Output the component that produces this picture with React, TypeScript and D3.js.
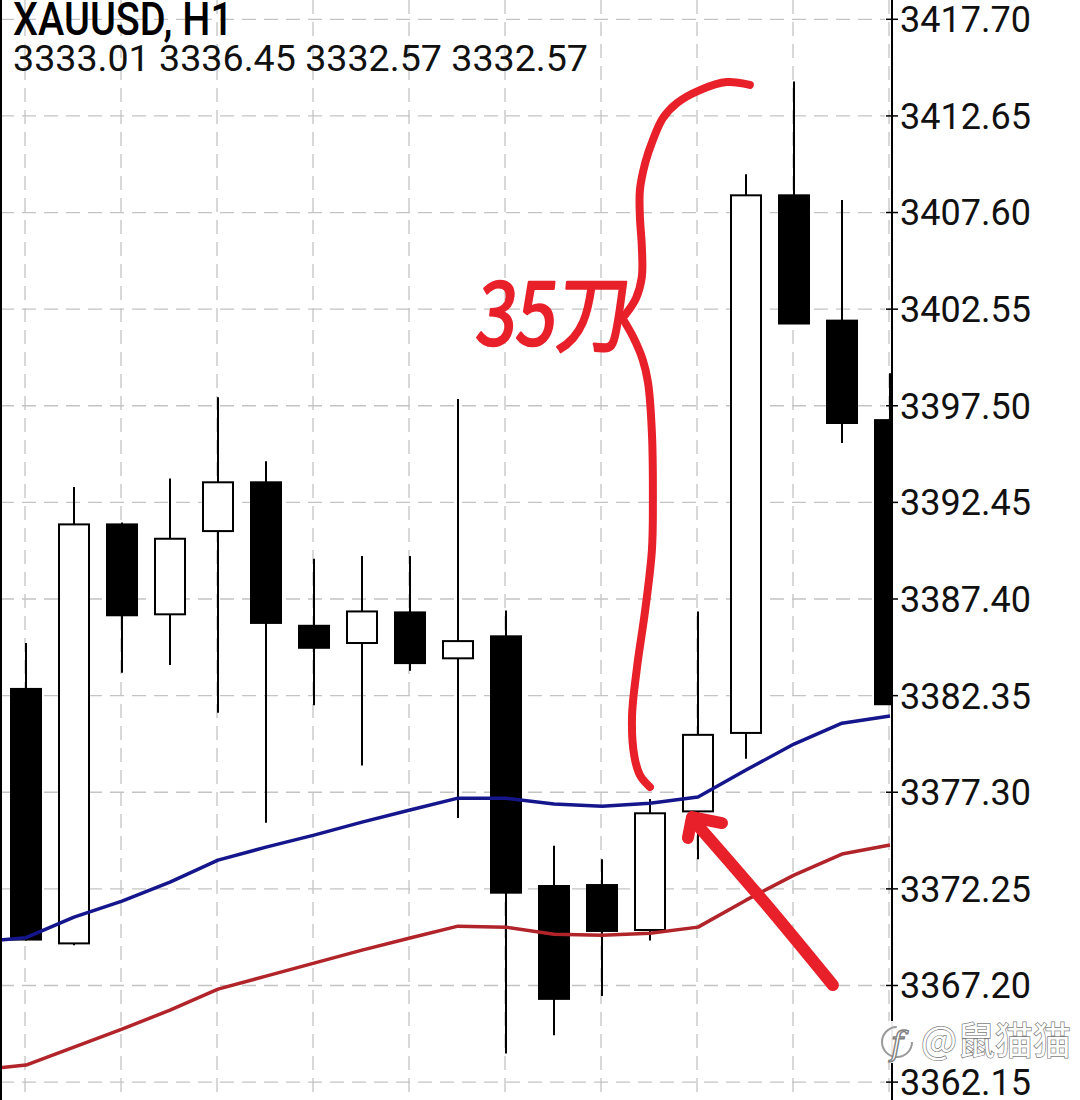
import React from 'react';
import * as d3 from 'd3';

const W = 1080;
const H = 1100;

// ---- header ----
const symbolTitle = 'XAUUSD, H1';
const ohlcHeader = '3333.01 3336.45 3332.57 3332.57';

// ---- price axis ticks ----
const tickValues = [3417.70, 3412.65, 3407.60, 3402.55, 3397.50, 3392.45, 3387.40, 3382.35, 3377.30, 3372.25, 3367.20, 3362.15];
const tickLabels = ['3417.70', '3412.65', '3407.60', '3402.55', '3397.50', '3392.45', '3387.40', '3382.35', '3377.30', '3372.25', '3367.20', '3362.15'];

// ---- candles (H1 bars, left to right) ----
const opens  = [3382.70, 3369.40, 3391.30, 3386.60, 3390.95, 3393.50, 3386.00, 3385.10, 3386.70, 3384.30, 3385.45, 3372.40, 3372.45, 3370.10, 3376.30, 3380.40, 3408.50, 3401.95, 3396.75];
const highs  = [3385.10, 3393.25, 3391.40, 3393.70, 3397.95, 3394.60, 3389.50, 3389.65, 3389.65, 3397.85, 3386.80, 3374.50, 3373.80, 3376.95, 3386.75, 3409.60, 3414.45, 3408.25, 3399.20];
const lows   = [3369.55, 3369.30, 3383.55, 3383.95, 3381.45, 3375.70, 3381.85, 3378.70, 3383.65, 3375.95, 3363.65, 3364.60, 3366.65, 3369.55, 3373.80, 3379.05, 3401.80, 3395.55, 3381.90];
const closes = [3369.60, 3391.30, 3386.55, 3390.55, 3393.50, 3386.15, 3384.85, 3386.75, 3384.05, 3385.20, 3372.05, 3366.50, 3370.05, 3376.20, 3380.30, 3408.50, 3401.80, 3396.60, 3381.90];

// ---- moving averages (bar index -1 .. 18) ----
const maIndex = d3.range(-1, 19);
const maBlue = [3369.47, 3369.70, 3370.77, 3371.61, 3372.60, 3373.75, 3374.43, 3375.06, 3375.74, 3376.37, 3376.99, 3376.99, 3376.68, 3376.57, 3376.73, 3377.05, 3378.46, 3379.82, 3380.91, 3381.29];
const maRed  = [3362.78, 3363.04, 3363.98, 3364.92, 3365.91, 3367.01, 3367.69, 3368.37, 3369.05, 3369.68, 3370.30, 3370.25, 3369.88, 3369.83, 3369.93, 3370.25, 3371.66, 3372.97, 3374.07, 3374.54];

// ---- hand-drawn annotation, in (bar index, price) ----
const braceUpper: [number, number][] = [[15.08, 3414.27], [14.60, 3414.42], [14.04, 3414.0], [13.56, 3413.32], [13.27, 3412.54], [13.06, 3411.39], [12.90, 3410.19], [12.79, 3408.78], [12.79, 3407.37], [12.83, 3405.80], [12.83, 3404.23], [12.71, 3403.13], [12.48, 3402.24]];
const braceLower: [number, number][] = [[12.42, 3402.10], [12.65, 3401.09], [12.85, 3399.89], [12.96, 3398.69], [13.04, 3396.07], [13.06, 3392.57], [13.04, 3389.96], [12.90, 3386.82], [12.73, 3383.84], [12.625, 3381.23], [12.67, 3379.24], [12.79, 3378.20], [13.0, 3377.57]];
const arrowShaft: [number, number][] = [[16.81, 3367.22], [15.4, 3371.5], [13.90, 3375.84]];
const arrowHead: [number, number][] = [[13.79, 3374.91], [13.875, 3376.0], [14.5, 3375.69]];
const noteText = '35刀';
const notePos: [number, number] = [9.42, 3400.67];

const watermark = '@鼠猫猫';

const x = d3.scaleLinear().domain([0, 18]).range([26, 890]);
const y = d3.scaleLinear().domain([3362.15, 3417.70]).range([1082.1, 19.3]);

const PLOT_RIGHT = 891;
const AXIS_X = 892;
const BODY_W = 32;

export default function App() {
  const lineMA = d3.line<number>().x((_, i) => x(maIndex[i])).y((v) => y(v));
  const smooth = d3.line<[number, number]>().x((d) => x(d[0])).y((d) => y(d[1])).curve(d3.curveCatmullRom.alpha(0.5));
  const straight = d3.line<[number, number]>().x((d) => x(d[0])).y((d) => y(d[1]));
  const gridX = d3.range(0, 19, 2);
  const annoRed = '#e8202a';

  return (
    <svg width={W} height={H} style={{ position: 'absolute', left: 0, top: 0, background: '#fff' }}>
      <defs>
        <clipPath id="plot">
          <rect x={0} y={0} width={PLOT_RIGHT} height={H} />
        </clipPath>
      </defs>
      <rect x={0} y={0} width={W} height={H} fill="#fff" />

      {/* grid */}
      <g stroke="#c4c4c4" strokeWidth={1.3} strokeDasharray="14,8">
        {tickValues.map((v) => (
          <line key={'h' + v} x1={0} x2={885} y1={y(v)} y2={y(v)} />
        ))}
        {gridX.map((i) => (
          <line key={'v' + i} x1={x(i) - 1} x2={x(i) - 1} y1={0} y2={H} />
        ))}
      </g>

      <g clipPath="url(#plot)">
        {/* candles */}
        {opens.map((o, i) => {
          const c = closes[i];
          const up = c >= o;
          const cx = x(i);
          const top = y(Math.max(o, c));
          const bot = y(Math.min(o, c));
          return (
            <g key={i}>
              <line x1={cx} x2={cx} y1={y(highs[i])} y2={y(lows[i])} stroke="#000" strokeWidth={2} />
              {up ? (
                <rect x={cx - BODY_W / 2 + 1} y={top} width={BODY_W - 2} height={Math.max(1, bot - top)} fill="#fff" stroke="#000" strokeWidth={2} />
              ) : (
                <rect x={cx - BODY_W / 2} y={top - 1} width={BODY_W} height={Math.max(2, bot - top + 2)} fill="#000" />
              )}
            </g>
          );
        })}

        {/* moving averages */}
        <path d={lineMA(maRed) || ''} fill="none" stroke="#b0242a" strokeWidth={3.5} strokeLinejoin="round" />
        <path d={lineMA(maBlue) || ''} fill="none" stroke="#15168c" strokeWidth={3.5} strokeLinejoin="round" />
      </g>

      {/* left border */}
      <line x1={1} x2={1} y1={0} y2={H} stroke="#000" strokeWidth={2} />

      {/* price axis */}
      <line x1={AXIS_X} x2={AXIS_X} y1={0} y2={H} stroke="#000" strokeWidth={2} />
      {tickValues.map((v, i) => (
        <g key={'t' + v}>
          <line x1={886} x2={898} y1={y(v)} y2={y(v)} stroke="#000" strokeWidth={1.5} />
          <text x={900} y={y(v)} dy="0.36em" fontFamily="Roboto, 'Noto Sans', sans-serif" fontSize={36} fill="#111">
            {tickLabels[i]}
          </text>
        </g>
      ))}

      {/* header */}
      <text x={13} y={35} fontFamily="Roboto, 'Noto Sans', sans-serif" fontWeight={500} fontSize={46} fill="#000" textLength={220} lengthAdjust="spacingAndGlyphs">
        {symbolTitle}
      </text>
      <text x={13} y={71} fontFamily="Roboto, 'Noto Sans', sans-serif" fontSize={36} fill="#111" textLength={575} lengthAdjust="spacingAndGlyphs">
        {ohlcHeader}
      </text>

      {/* hand-drawn annotation */}
      <g fill="none" stroke={annoRed} strokeLinecap="round" strokeLinejoin="round">
        <path d={smooth(braceUpper) || ''} strokeWidth={8} />
        <path d={smooth(braceLower) || ''} strokeWidth={8} />
        <path d={smooth(arrowShaft) || ''} strokeWidth={12} />
        <path d={straight(arrowHead) || ''} strokeWidth={12} />
      </g>
      <text x={x(notePos[0])} y={y(notePos[1])} fontFamily="'Noto Sans CJK SC', sans-serif" fontSize={86} fill={annoRed} stroke={annoRed} strokeWidth={2.5} strokeLinejoin="round" textLength={152} lengthAdjust="spacingAndGlyphs" transform={`skewX(-6)`} style={{ transformBox: 'fill-box', transformOrigin: 'center' }}>
        {noteText}
      </text>

      {/* watermark */}
      <rect x={868} y={1021} width={207} height={42} fill="#fff" opacity={0.92} />
      <g>
        <circle cx={897} cy={1042} r={15} fill="none" stroke="#9a9a9a" strokeWidth={2} strokeDasharray="70,25" />
        <text x={897} y={1055} textAnchor="middle" fontFamily="'DejaVu Serif', serif" fontStyle="italic" fontSize={34} fill="#fff" stroke="#808080" strokeWidth={1.4}>
          f
        </text>
        <text x={921} y={1054} fontFamily="'Noto Sans CJK SC', sans-serif" fontSize={38} fill="#fff" stroke="#7d7d7d" strokeWidth={1.4} paintOrder="stroke">
          {watermark}
        </text>
      </g>
    </svg>
  );
}
